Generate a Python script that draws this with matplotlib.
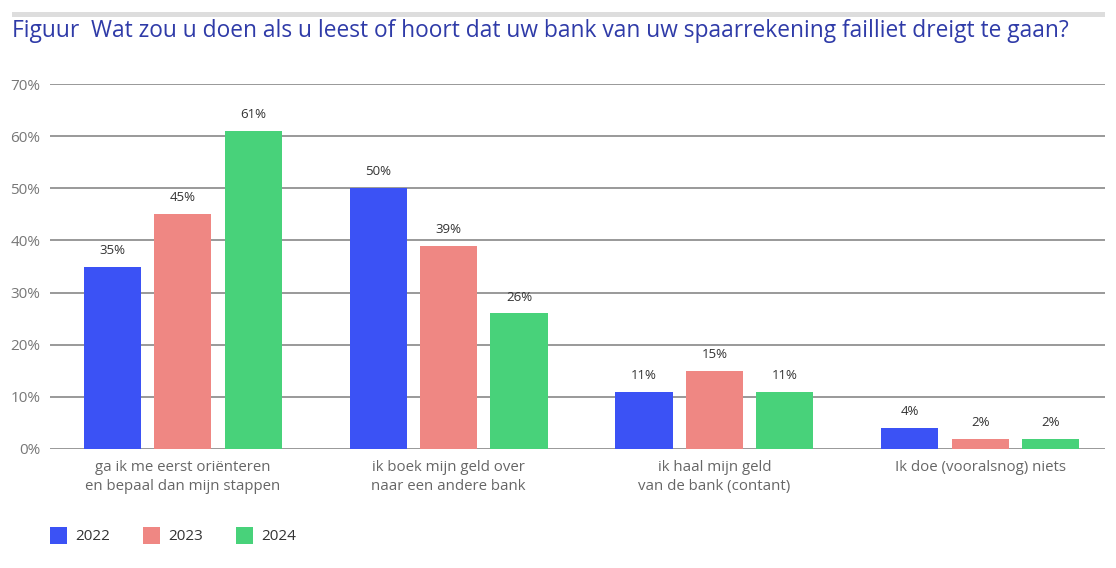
import matplotlib
matplotlib.use("Agg")
import matplotlib.pyplot as plt
from matplotlib.patches import Rectangle
import numpy as np

plt.rcParams['font.family'] = ['Open Sans', 'DejaVu Sans']

categories = ["ga ik me eerst oriënteren\nen bepaal dan mijn stappen",
              "ik boek mijn geld over\nnaar een andere bank",
              "ik haal mijn geld\nvan de bank (contant)",
              "Ik doe (vooralsnog) niets"]
years = ["2022", "2023", "2024"]
v2022 = [35, 50, 11, 4]
v2023 = [45, 39, 15, 2]
v2024 = [61, 26, 11, 2]
colors = ["#3B52F5", "#EF8783", "#48D27A"]
yticks = [0, 10, 20, 30, 40, 50, 60, 70]

W, H = 1116, 568
fig = plt.figure(figsize=(W/100, H/100), dpi=100)
ax = fig.add_axes([50/W, 119/H, 1055/W, 365/H])

x = np.arange(len(categories))
w = 0.215
off = 0.265
for i, (vals, c) in enumerate(zip([v2022, v2023, v2024], colors)):
    pos = x + (i - 1) * off
    ax.bar(pos, vals, width=w, color=c, zorder=3)
    for p, v in zip(pos, vals):
        ax.text(p, v + 1.9, f"{v}%", ha='center', va='bottom', fontsize=9.5, color='#333333', zorder=4)

ax.set_xlim(-0.5, 3.47)
ax.set_ylim(0, 70)
ax.set_yticks(yticks)
ax.set_yticklabels([f"{t}%" for t in yticks], fontsize=11, color='#777777')
ax.yaxis.grid(True, color='#999999', linewidth=1.4, zorder=0)
ax.tick_params(axis='y', length=0, pad=7)
ax.tick_params(axis='x', length=0, pad=8)
ax.set_xticks(x)
ax.set_xticklabels(categories, fontsize=10.8, color='#666666', linespacing=1.35)
for s in ax.spines.values():
    s.set_visible(False)

# title and top band
fig.add_artist(Rectangle((12/W, 1 - 17/H), 1093/W, 5/H, transform=fig.transFigure,
                         facecolor='#DDDDDD', edgecolor='none'))
fig.text(12/W, 1 - 31/H, "Figuur  Wat zou u doen als u leest of hoort dat uw bank van uw spaarrekening failliet dreigt te gaan?",
         fontsize=16.4, color='#2F3BA8', va='center', ha='left')

# legend drawn manually
for k, (yr, c) in enumerate(zip(years, colors)):
    x0 = 50 + k * 93
    fig.add_artist(Rectangle((x0/W, 1 - 544/H), 17/W, 17/H, transform=fig.transFigure,
                             facecolor=c, edgecolor='none'))
    fig.text((x0 + 25)/W, 1 - 536/H, yr, fontsize=11, color='#333333', va='center', ha='left')

fig.savefig("out.png", dpi=100)
